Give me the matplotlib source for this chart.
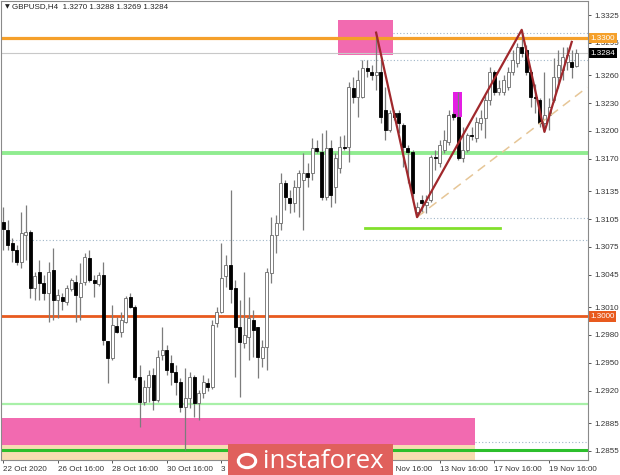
import matplotlib
matplotlib.use("Agg")
import matplotlib.pyplot as plt
from matplotlib.patches import Rectangle, Circle
from matplotlib.transforms import blended_transform_factory

# ---------------- data ----------------
title = "GBPUSD,H4  1.3270 1.3288 1.3269 1.3284"

opens = [1.3102, 1.3093, 1.3079, 1.3072, 1.3059, 1.3088, 1.3091, 1.3031, 1.3048, 1.3036,
         1.3025, 1.3050, 1.3018, 1.3021, 1.3016, 1.3030, 1.3037, 1.3021, 1.3037, 1.3063,
         1.3039, 1.3035, 1.3045, 1.2973, 1.2955, 1.2990, 1.2983, 1.2994, 1.3021, 1.3010,
         1.2935, 1.2908, 1.2924, 1.2937, 1.2910, 1.2958, 1.2964, 1.2950, 1.2940, 1.2929,
         1.2902, 1.2912, 1.2935, 1.2907, 1.2917, 1.2928, 1.2924, 1.2993, 1.3005, 1.3043,
         1.3055, 1.3031, 1.2989, 1.2971, 1.2978, 1.2996, 1.2988, 1.2955, 1.2967, 1.3047,
         1.3088, 1.3101, 1.3144, 1.3128, 1.3122, 1.3140, 1.3147, 1.3155, 1.3155, 1.3182,
         1.3177, 1.3129, 1.3182, 1.3140, 1.3160, 1.3183, 1.3183, 1.3246, 1.3237, 1.3237,
         1.3268, 1.3264, 1.3260, 1.3263, 1.3223, 1.3201, 1.3219, 1.3219, 1.3206, 1.3182,
         1.3177, 1.3113, 1.3125, 1.3120, 1.3125, 1.3172, 1.3165, 1.3179, 1.3188, 1.3218,
         1.3215, 1.3171, 1.3179, 1.3196, 1.3192, 1.3209, 1.3214, 1.3233, 1.3263, 1.3242,
         1.3242, 1.3247, 1.3264, 1.3273, 1.3291, 1.3287, 1.3263, 1.3237, 1.3233, 1.3209,
         1.3217, 1.3233, 1.3258, 1.3266, 1.3274, 1.3274, 1.3270]
highs = [1.3118, 1.3104, 1.3085, 1.3077, 1.3113, 1.3120, 1.3093, 1.3048, 1.3061, 1.3045,
         1.3059, 1.3074, 1.3029, 1.3025, 1.3034, 1.3041, 1.3045, 1.3058, 1.3068, 1.3072,
         1.3045, 1.3048, 1.3059, 1.2973, 1.3012, 1.2999, 1.3005, 1.3022, 1.3025, 1.3012,
         1.2948, 1.2931, 1.2942, 1.2944, 1.2964, 1.2988, 1.2969, 1.2958, 1.2948, 1.2934,
         1.2944, 1.2940, 1.2937, 1.2921, 1.2937, 1.2934, 1.2996, 1.3010, 1.3079, 1.3066,
         1.3136, 1.3039, 1.3018, 1.3048, 1.3021, 1.3007, 1.2989, 1.2975, 1.3052, 1.3107,
         1.3109, 1.3155, 1.3147, 1.3136, 1.3147, 1.3158, 1.3176, 1.3165, 1.3192, 1.3190,
         1.3198, 1.3201, 1.3190, 1.3176, 1.3194, 1.3196, 1.3253, 1.3258, 1.3266, 1.3277,
         1.3277, 1.3271, 1.3306, 1.3277, 1.3247, 1.3223, 1.3223, 1.3223, 1.3209, 1.3185,
         1.3179, 1.3123, 1.3131, 1.3131, 1.3174, 1.3179, 1.3190, 1.3201, 1.3223, 1.3220,
         1.3242, 1.3204, 1.3198, 1.3204, 1.3215, 1.3223, 1.3239, 1.3269, 1.3266, 1.3255,
         1.3260, 1.3269, 1.3287, 1.3295, 1.3309, 1.3293, 1.3266, 1.3251, 1.3236, 1.3263,
         1.3236, 1.3279, 1.3287, 1.3290, 1.3290, 1.3287, 1.3288]
lows = [1.3072, 1.3072, 1.3059, 1.3055, 1.3052, 1.3061, 1.3020, 1.3018, 1.3018, 1.3018,
        1.2994, 1.2996, 1.2998, 1.3007, 1.3012, 1.3027, 1.2994, 1.2996, 1.3034, 1.3037,
        1.3021, 1.3033, 1.2969, 1.2928, 1.2953, 1.2982, 1.2978, 1.2993, 1.3009, 1.2931,
        1.2881, 1.2904, 1.2908, 1.2899, 1.2908, 1.2953, 1.2937, 1.2926, 1.2915, 1.2897,
        1.2856, 1.2901, 1.2892, 1.2888, 1.2912, 1.2919, 1.2922, 1.2989, 1.3004, 1.3032,
        1.3014, 1.2935, 1.2913, 1.2966, 1.2953, 1.2956, 1.2934, 1.2945, 1.2942, 1.3036,
        1.3068, 1.3093, 1.3115, 1.3112, 1.3113, 1.3107, 1.3093, 1.3140, 1.3147, 1.3176,
        1.3126, 1.3126, 1.3118, 1.3122, 1.3155, 1.3179, 1.3167, 1.3230, 1.3215, 1.3236,
        1.3258, 1.3255, 1.3244, 1.3209, 1.3190, 1.3199, 1.3212, 1.3198, 1.3161, 1.3144,
        1.3123, 1.3107, 1.3111, 1.3111, 1.3123, 1.3158, 1.3161, 1.3176, 1.3185, 1.3212,
        1.3169, 1.3166, 1.3177, 1.3190, 1.3188, 1.3201, 1.3192, 1.3228, 1.3239, 1.3239,
        1.3239, 1.3244, 1.3260, 1.3269, 1.3280, 1.3260, 1.3226, 1.3219, 1.3204, 1.3199,
        1.3201, 1.3231, 1.3246, 1.3255, 1.3266, 1.3257, 1.3269]
closes = [1.3094, 1.3077, 1.3072, 1.3059, 1.3090, 1.3091, 1.3031, 1.3043, 1.3036, 1.3025,
          1.3048, 1.3018, 1.3023, 1.3017, 1.3031, 1.3039, 1.3023, 1.3036, 1.3064, 1.3039,
          1.3036, 1.3045, 1.2975, 1.2955, 1.2991, 1.2983, 1.2996, 1.3020, 1.3010, 1.2935,
          1.2908, 1.2924, 1.2937, 1.2910, 1.2956, 1.2964, 1.2942, 1.2940, 1.2929, 1.2902,
          1.2912, 1.2935, 1.2907, 1.2917, 1.2929, 1.2924, 1.2991, 1.3005, 1.3041, 1.3055,
          1.3029, 1.2989, 1.2972, 1.2980, 1.2998, 1.2985, 1.2956, 1.2967, 1.3048, 1.3088,
          1.3101, 1.3144, 1.3129, 1.3122, 1.3140, 1.3155, 1.3155, 1.3150, 1.3182, 1.3178,
          1.3129, 1.3182, 1.3131, 1.3171, 1.3183, 1.3182, 1.3247, 1.3237, 1.3255, 1.3268,
          1.3265, 1.3260, 1.3263, 1.3215, 1.3201, 1.3219, 1.3215, 1.3209, 1.3183, 1.3177,
          1.3133, 1.3118, 1.3122, 1.3123, 1.3172, 1.3171, 1.3185, 1.3190, 1.3217, 1.3215,
          1.3171, 1.3179, 1.3196, 1.3194, 1.3210, 1.3214, 1.3233, 1.3263, 1.3242, 1.3246,
          1.3255, 1.3264, 1.3277, 1.3291, 1.3284, 1.3263, 1.3237, 1.3236, 1.3209, 1.3217,
          1.3226, 1.3258, 1.3271, 1.3280, 1.3282, 1.3269, 1.3284]

# tick labels hidden under the watermark in the reference are left blank
xtick_pos = [0, 12, 24, 36, 48, 60, 72, 84, 96, 108, 120]
xtick_labels = ["22 Oct 2020", "26 Oct 16:00", "28 Oct 16:00", "30 Oct 16:00",
                "3 Nov 16:00", "", "", "11 Nov 16:00",
                "13 Nov 16:00", "17 Nov 16:00", "19 Nov 16:00"]
ytick_vals = [1.3325, 1.3295, 1.3260, 1.3230, 1.3200, 1.3170, 1.3135, 1.3105,
              1.3075, 1.3045, 1.3010, 1.2980, 1.2950, 1.2920, 1.2885, 1.2855]

# zigzag pivots (bar index, price)
zigzag_idx = [82, 91, 114, 119, 125]
zigzag_price = [1.3306, 1.3107, 1.3309, 1.3199, 1.3296]
# trend line (bar index, price)
trend_idx = [91, 128.4]
trend_price = [1.3107, 1.3247]

# full-width horizontal levels
level_orange = 1.3300
level_bid = 1.3284
level_green_top = 1.3176
level_red = 1.3000
level_green_low = 1.2905
level_green_bottom = 1.2856
# partial levels: (price, start index, end index)
short_green = (1.3095, 79.6, 109.2)
dotted_levels = [(1.3306, 85.7), (1.3276, 78.5), (1.3106, 91.6), (1.3082, -1.0), (1.2865, 103.7)]
# zones: (x0, x1, y0, y1)
zone_top_pink = (73.6, 85.7, 1.3282, 1.3320)
zone_magenta = (98.9, 100.9, 1.3215, 1.3242)
zone_bottom_pink = (-1.0, 103.7, 1.2861, 1.28905)
zone_bottom_beige = (-1.0, 103.7, 1.2830, 1.2861)

# ---------------- figure ----------------
plt.rcParams['font.family'] = ['Liberation Sans', 'DejaVu Sans']
W, H = 620, 475
fig = plt.figure(figsize=(W / 100, H / 100), dpi=100)
ax = fig.add_axes([1 / W, 15 / H, 587 / W, 459 / H])
ax.set_facecolor("white")
XMIN, XMAX = -0.44, 128.57
ax.set_xlim(XMIN, XMAX)
ax.set_ylim(1.28451, 1.33401)

# zones
for (x0, x1, y0, y1), col, z in [(zone_top_pink, "#f26ab0", 1),
                                 (zone_bottom_pink, "#f26ab0", 1),
                                 (zone_bottom_beige, "#f7dcb2", 1),
                                 (zone_magenta, "#e41ee4", 1)]:
    ax.add_patch(Rectangle((x0, y0), x1 - x0, y1 - y0, facecolor=col,
                           edgecolor="none", zorder=z))

# horizontal lines
ax.axhline(level_bid, color="#c8c8c8", lw=0.8, zorder=1.5)
for p, x0 in dotted_levels:
    ax.plot([x0, XMAX + 1], [p, p], color="#9fb6c8", lw=0.8,
            linestyle=(0, (1, 2)), zorder=1.5)
ax.axhline(level_orange, color="#f5a02a", lw=2.3, zorder=2)
ax.axhline(level_green_top, color="#90ec90", lw=2.8, zorder=2)
ax.axhline(level_red, color="#e85a1e", lw=2.0, zorder=2)
ax.axhline(level_green_low, color="#a8f0a8", lw=1.6, zorder=2)
ax.axhline(level_green_bottom, color="#2cbf2c", lw=2.2, zorder=2)
ax.plot([short_green[1], short_green[2]], [short_green[0]] * 2,
        color="#82e02c", lw=2.0, zorder=2)

# candles
n = len(opens)
xs = list(range(n))
ax.vlines(xs, lows, highs, color="#7c7c7c", lw=0.9, zorder=3)
for i in range(n):
    o, c = opens[i], closes[i]
    bottom = min(o, c)
    h = max(abs(c - o), 0.00004)
    if c >= o:
        fc, ec = "white", "#6a6a6a"
    else:
        fc, ec = "black", "black"
    ax.add_patch(Rectangle((i - 0.33, bottom), 0.66, h, facecolor=fc,
                           edgecolor=ec, lw=0.6, zorder=4))

# trend line + zigzag
ax.plot(trend_idx, trend_price, color="#e6c697", lw=1.1,
        linestyle=(0, (6, 4)), zorder=5)
ax.plot(zigzag_idx, zigzag_price, color="#a0282c", lw=1.6, zorder=6)

# axes styling
for s in ax.spines.values():
    s.set_color("#8a8a8a")
    s.set_linewidth(0.8)
ax.yaxis.tick_right()
ax.set_yticks(ytick_vals)
ax.set_yticklabels([f"{v:.4f}" for v in ytick_vals])
ax.set_xticks(xtick_pos)
ax.set_xticklabels(xtick_labels)
ax.tick_params(axis="both", direction="out", length=2.5, width=0.7,
               color="#555555", labelsize=5.8, labelcolor="#333333")
ax.tick_params(axis="y", pad=2)
ax.tick_params(axis="x", pad=2)
for lbl in ax.get_xticklabels():
    lbl.set_ha("left")

# highlighted price labels on the right axis
trans = blended_transform_factory(ax.transAxes, ax.transData)
for price, txt, fc, tc in [(level_orange, "1.3300", "#f5a02a", "white"),
                           (level_bid, "1.3284", "black", "white"),
                           (level_red, "1.3000", "#e85a1e", "white")]:
    ax.text(1.004, price, txt, transform=trans, fontsize=5.8, color=tc,
            va="center", ha="left", clip_on=False, zorder=10,
            bbox=dict(facecolor=fc, edgecolor="none", pad=1.2))

# title
fig.text(5 / W, 1 - 7 / H, "\u25bc", fontsize=4.5, color="#222222",
         va="center", ha="left", family=["DejaVu Sans"])
fig.text(12 / W, 1 - 7 / H, title, fontsize=5.8, color="#222222",
         va="center", ha="left")

# watermark
fig.patches.append(Rectangle((228 / W, 0), (393 - 228) / W, 31 / H,
                             transform=fig.transFigure, facecolor="#e0605c",
                             edgecolor="none", zorder=20))
fig.patches.append(Circle((247 / W, 14 / H), 0.014, transform=fig.transFigure,
                          facecolor="none", edgecolor="white", lw=2.2, zorder=21))
fig.text(263 / W, 13 / H, "instaforex", fontsize=18.5, color="white",
         va="center", ha="left", family=["Open Sans", "DejaVu Sans"], zorder=22)

fig.savefig("out.png", dpi=100)
